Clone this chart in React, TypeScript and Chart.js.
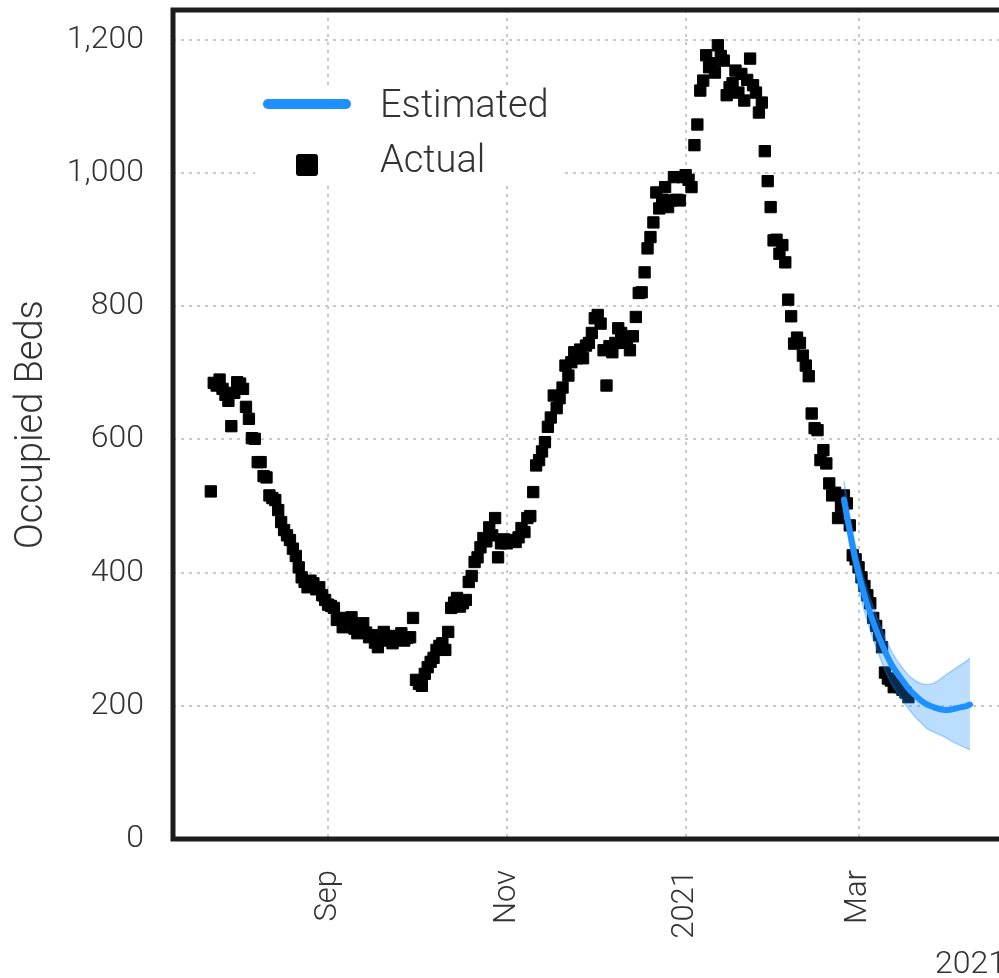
import React, { useEffect, useRef } from "react";
import { Chart, registerables } from "chart.js";

Chart.register(...registerables);

// x values are days counted from 2020-09-01 (Sep 1 = 0)
const FIRST_ACTUAL_DAY = -40;
const actualBeds = [
  522, 685, 681, 690, 676, 667, 658, 620, 670, 686,
  684, 676, 649, 631, 602, 601, 566, 566, 545, 543,
  516, 512, 509, 494, 476, 464, 456, 449, 436, 425,
  408, 393, 386, 378, 388, 384, 375, 378, 366, 359,
  352, 350, 347, 329, 332, 318, 325, 330, 333, 316,
  309, 318, 324, 310, 303, 306, 295, 288, 300, 311,
  305, 298, 294, 300, 305, 309, 298, 302, 303, 332,
  239, 233, 230, 248, 258, 266, 272, 284, 290, 294,
  284, 311, 347, 355, 362, 349, 354, 359, 386, 395,
  416, 423, 438, 452, 447, 468, 456, 482, 423, 444,
  450, 444, 448, 449, 446, 453, 467, 461, 482, 485,
  521, 561, 569, 582, 596, 619, 633, 666, 647, 662,
  678, 711, 696, 716, 731, 722, 735, 722, 741, 745,
  760, 782, 787, 774, 734, 681, 740, 731, 745, 767,
  760, 745, 752, 734, 755, 784, 820, 821, 851, 887,
  904, 926, 971, 947, 960, 979, 949, 959, 994, 960,
  959, 994, 997, 990, 979, 1042, 1073, 1124, 1139, 1177,
  1159, 1165, 1151, 1192, 1176, 1169, 1117, 1129, 1135, 1154,
  1121, 1149, 1109, 1140, 1172, 1132, 1121, 1091, 1106, 1033,
  988, 949, 899, 900, 879, 892, 866, 810, 785, 744,
  753, 745, 726, 711, 695, 639, 617, 614, 569, 584,
  564, 534, 516, 520, 482, 500, 516, 504, 471, 426,
  420, 408, 393, 380, 366, 354, 332, 320, 306, 288,
  250, 241, 238, 228, 232, 228, 224, 220, 213,
];

const estimateDays = [176, 178, 180, 182, 184, 186, 188, 190, 192, 194, 196, 198, 200, 202, 204, 206, 208, 210, 212, 214, 216, 218, 219];
const estimateBeds = [510, 462, 418, 382, 352, 326, 303, 282, 264, 250, 238, 226, 217, 209, 203, 199, 196, 194, 194, 196, 198, 200, 202];
const estimateUpper = [538, 486, 440, 404, 374, 349, 325, 303, 284, 269, 257, 246, 239, 234, 232, 233, 237, 244, 250, 256, 262, 268, 272];
const estimateLower = [492, 441, 396, 358, 327, 300, 276, 254, 235, 221, 208, 196, 185, 176, 167, 162, 158, 154, 149, 144, 140, 136, 134];

const xTickDays = [0, 61, 122, 181];
const xTickLabels = ["Sep", "Nov", "2021", "Mar"];
const yTickValues = [0, 200, 400, 600, 800, 1000, 1200];
const legendLabels = ["Estimated", "Actual"];
const yAxisTitle = "Occupied Beds";
const xAxisTitle = "2021";

const FONT = "Roboto, 'Liberation Sans', sans-serif";
const TEXT = "#333333";
const BLUE = "#1E90FF";

const framePlugin = {
  id: "frame",
  afterDraw(chart: any) {
    const { ctx, chartArea: a } = chart;
    ctx.save();
    ctx.strokeStyle = "#1d1d1d";
    ctx.lineWidth = 5;
    ctx.strokeRect(a.left, a.top, a.right - a.left, a.bottom - a.top);
    ctx.restore();
  },
};

const legendPlugin = {
  id: "insideLegend",
  afterDatasetsDraw(chart: any) {
    const { ctx, chartArea: a } = chart;
    const L = a.left;
    const T = a.top;
    ctx.save();
    ctx.fillStyle = "#ffffff";
    ctx.fillRect(L + 82, T + 75, 305, 98);
    ctx.strokeStyle = BLUE;
    ctx.lineWidth = 10;
    ctx.lineCap = "round";
    ctx.beginPath();
    ctx.moveTo(L + 95, T + 94);
    ctx.lineTo(L + 173, T + 94);
    ctx.stroke();
    ctx.fillStyle = "#000000";
    ctx.beginPath();
    (ctx as any).roundRect(L + 123, T + 144, 22, 22, 3);
    ctx.fill();
    ctx.fillStyle = TEXT;
    ctx.font = `300 38px ${FONT}`;
    ctx.textBaseline = "middle";
    ctx.textAlign = "left";
    ctx.fillText(legendLabels[0], L + 207, T + 97);
    ctx.fillText(legendLabels[1], L + 207, T + 152);
    ctx.restore();
  },
};

export default function App() {
  const ref = useRef<HTMLCanvasElement | null>(null);

  useEffect(() => {
    if (!ref.current) return;
    const actualPoints = actualBeds.map((v, i) => ({ x: FIRST_ACTUAL_DAY + i, y: v }));
    const est = estimateDays.map((d, i) => ({ x: d, y: estimateBeds[i] }));
    const up = estimateDays.map((d, i) => ({ x: d, y: estimateUpper[i] }));
    const lo = estimateDays.map((d, i) => ({ x: d, y: estimateLower[i] }));

    const chart = new Chart(ref.current, {
      type: "line",
      data: {
        datasets: [
          {
            label: "Actual",
            data: actualPoints,
            showLine: false,
            pointStyle: "rect",
            pointRadius: 8,
            pointBorderWidth: 1,
            pointBackgroundColor: "#000000",
            pointBorderColor: "#000000",
            order: 3,
          },
          {
            label: "lower",
            data: lo,
            borderColor: "rgba(30,144,255,0.35)",
            borderWidth: 1.5,
            pointRadius: 0,
            tension: 0.4,
            fill: false,
            order: 2,
          },
          {
            label: "upper",
            data: up,
            borderColor: "rgba(30,144,255,0.35)",
            borderWidth: 1.5,
            pointRadius: 0,
            tension: 0.4,
            fill: "-1",
            backgroundColor: "rgba(30,144,255,0.3)",
            order: 2,
          },
          {
            label: "Estimated",
            data: est,
            borderColor: BLUE,
            borderWidth: 6,
            pointRadius: 0,
            tension: 0.4,
            fill: false,
            borderCapStyle: "round",
            order: 1,
          },
        ],
      },
      options: {
        animation: false,
        responsive: false,
        events: [],
        layout: { padding: { top: 10, right: 54, bottom: 0, left: 0 } },
        plugins: {
          legend: { display: false },
          tooltip: { enabled: false },
          title: { display: false },
        },
        scales: {
          x: {
            type: "linear",
            min: -52.9,
            max: 231.3,
            afterBuildTicks: (s: any) => {
              s.ticks = xTickDays.map((v) => ({ value: v }));
            },
            afterFit: (s: any) => {
              s.height = 139;
              s.paddingLeft = 0;
              s.paddingRight = 0;
            },
            ticks: {
              autoSkip: false,
              minRotation: 90,
              maxRotation: 90,
              padding: 31,
              color: TEXT,
              font: { family: FONT, size: 31, weight: "300" as any },
              callback: (v: any) => {
                const i = xTickDays.indexOf(Number(v));
                return i >= 0 ? xTickLabels[i] : "";
              },
            },
            grid: { color: "#c9c9c9", lineWidth: 2, drawTicks: false },
            border: { display: false, dash: [3, 5] },
            title: {
              display: true,
              text: xAxisTitle,
              align: "end",
              color: TEXT,
              font: { family: FONT, size: 32, weight: "300" as any, lineHeight: 0.8 },
              padding: { top: 0, bottom: 0 },
            },
          },
          y: {
            type: "linear",
            min: 0,
            max: 1245,
            afterBuildTicks: (s: any) => {
              s.ticks = yTickValues.map((v) => ({ value: v }));
            },
            afterFit: (s: any) => {
              s.width = 173;
              s.paddingTop = 0;
              s.paddingBottom = 0;
            },
            ticks: {
              padding: 29,
              color: TEXT,
              font: { family: FONT, size: 32, weight: "300" as any },
              callback: (v: any) => Number(v).toLocaleString("en-US"),
            },
            grid: { color: "#c9c9c9", lineWidth: 2, drawTicks: false },
            border: { display: false, dash: [3, 5] },
            title: {
              display: true,
              text: yAxisTitle,
              color: TEXT,
              font: { family: FONT, size: 38, weight: "300" as any, lineHeight: 1.2 },
              padding: { top: 10, bottom: 0 },
            },
          },
        },
      } as any,
      plugins: [legendPlugin, framePlugin],
    });
    return () => chart.destroy();
  }, []);

  return (
    <div
      style={{
        position: "fixed",
        left: 0,
        top: 0,
        width: 999,
        height: 978,
        overflow: "hidden",
        background: "#ffffff",
      }}
    >
      <canvas ref={ref} width={1060} height={978} style={{ display: "block" }} />
    </div>
  );
}
